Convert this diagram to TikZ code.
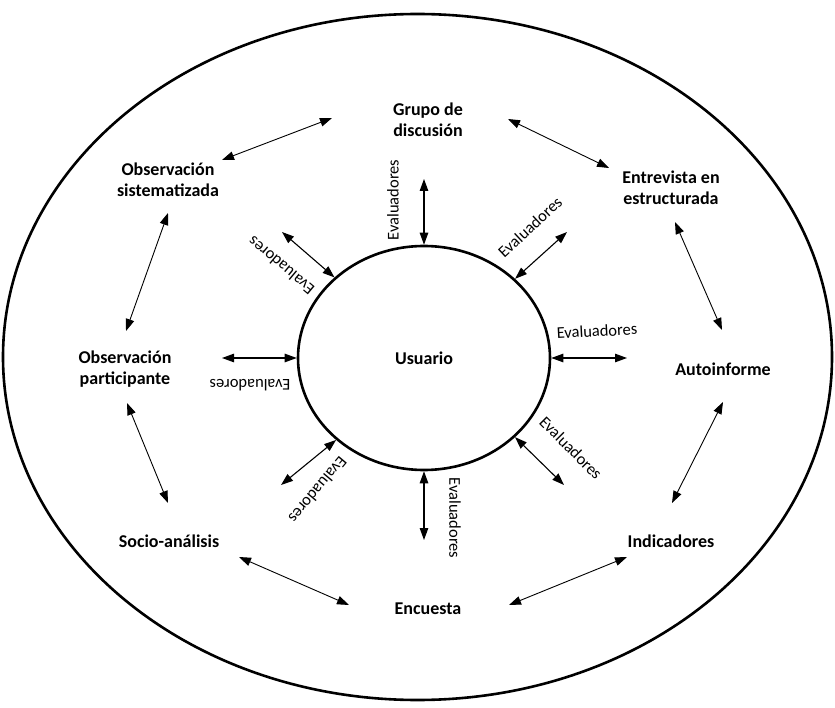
\documentclass[tikz,border=0pt]{standalone}
\usepackage{fontspec}
\setmainfont{Carlito}
\usetikzlibrary{arrows.meta,shapes.geometric}
\begin{document}
\begin{tikzpicture}[x=1pt,y=-1pt,
  method/.style={font=\bfseries\fontsize{18}{21}\selectfont, align=center, inner sep=0pt},
  evlabel/.style={font=\fontsize{16.5}{19}\selectfont, inner sep=0pt},
  link/.style={{Triangle[length=12pt,width=8.5pt]}-{Triangle[length=12pt,width=8.5pt]}, line width=0.9pt},
  spoke/.style={link, line width=1.1pt},
  ring/.style={ellipse, draw, line width=2.6pt, inner sep=0pt},
]
\useasboundingbox (0,0) rectangle (835,708);

% outer boundary and central user
\node[ring, minimum width=829pt, minimum height=686pt] (frame) at (417.5,357) {};
\node[ring, minimum width=252pt, minimum height=224pt, font=\bfseries\fontsize{18}{21}\selectfont] (user) at (424,358) {Usuario};

% evaluation methods
\node[method] (grupo) at (428,120) {Grupo de\\discusión};
\node[method] (entrev) at (671,188) {Entrevista en\\estructurada};
\node[method] (auto) at (723,369) {Autoinforme};
\node[method] (indic) at (671,541) {Indicadores};
\node[method] (encu) at (428,609) {Encuesta};
\node[method] (socio) at (169,541) {Socio-análisis};
\node[method] (part) at (125,369) {Observación\\participante};
\node[method] (sist) at (168,180) {Observación\\sistematizada};

% arrow ends between neighbouring methods
\coordinate (sg1) at (222,160); \coordinate (sg2) at (332,118);
\coordinate (ge1) at (508,119); \coordinate (ge2) at (609,168);
\coordinate (ea1) at (675,222); \coordinate (ea2) at (722,330);
\coordinate (ai1) at (723,402); \coordinate (ai2) at (672,503);
\coordinate (ie1) at (627,557); \coordinate (ie2) at (509,605);
\coordinate (es1) at (349,605); \coordinate (es2) at (239,557);
\coordinate (sp1) at (168,503); \coordinate (sp2) at (127,403);
\coordinate (ps1) at (126,331); \coordinate (ps2) at (168,213);

\draw[link] (sg1) -- (sg2);
\draw[link] (ge1) -- (ge2);
\draw[link] (ea1) -- (ea2);
\draw[link] (ai1) -- (ai2);
\draw[link] (ie1) -- (ie2);
\draw[link] (es1) -- (es2);
\draw[link] (sp1) -- (sp2);
\draw[link] (ps1) -- (ps2);

% spokes from the user
\coordinate (sN) at (424,179);
\coordinate (sNE) at (567,232);
\coordinate (sNW) at (282,232);
\coordinate (sE) at (627,358);
\coordinate (sW) at (222,358);
\coordinate (sSE) at (564,485);
\coordinate (sSW) at (281,485);
\coordinate (sS) at (424,540);

\draw[spoke] (user.90) -- (sN);
\draw[spoke] (user.41.3) -- (sNE);
\draw[spoke] (user.138.3) -- (sNW);
\draw[spoke] (user.0) -- (sE);
\draw[spoke] (user.180) -- (sW);
\draw[spoke] (user.-41.3) -- (sSE);
\draw[spoke] (user.-137.6) -- (sSW);
\draw[spoke] (user.270) -- (sS);

% spoke labels
\node[evlabel, rotate=90] (eN) at (393,200) {Evaluadores};
\node[evlabel, rotate=43] (eNE) at (530,227) {Evaluadores};
\node[evlabel, rotate=140] (eNW) at (281,266) {Evaluadores};
\node[evlabel, rotate=3] (eE) at (597,331) {Evaluadores};
\node[evlabel, rotate=180] (eW) at (250,385) {Evaluadores};
\node[evlabel, rotate=-45] (eSE) at (571,448) {Evaluadores};
\node[evlabel, rotate=230] (eSW) at (318,490) {Evaluadores};
\node[evlabel, rotate=-90] (eS) at (455,518) {Evaluadores};
\end{tikzpicture}
\end{document}
